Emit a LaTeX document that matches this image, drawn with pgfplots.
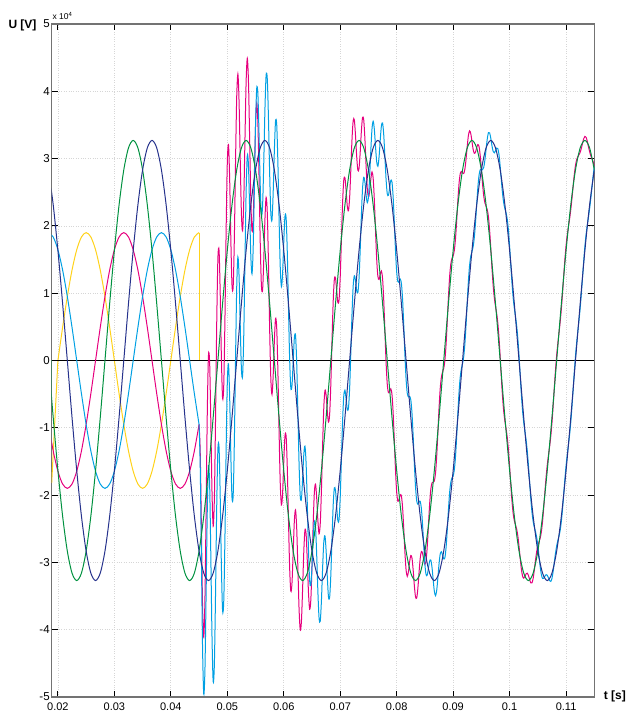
\documentclass[border=0pt]{standalone}
\usepackage{fontspec}
\setmainfont{Liberation Sans}
\usepackage{pgfplots}
\usepackage{pgfplotstable}
\pgfplotsset{compat=1.18}
\definecolor{cYel}{HTML}{FFD21A}
\definecolor{cMag}{HTML}{E6007E}
\definecolor{cCya}{HTML}{00A0E3}
\definecolor{cGre}{HTML}{00913F}
\definecolor{cNav}{HTML}{26328C}

\pgfplotstableread{
t m c
0.045000 -0.950 -0.950
0.045208 -1.376 -1.590
0.045417 -2.521 -2.948
0.045625 -3.670 -4.307
0.045833 -4.111 -4.958
0.046042 -3.538 -4.589
0.046250 -2.202 -3.453
0.046458 -0.763 -2.209
0.046667 0.075 -1.560
0.046875 -0.038 -1.855
0.047083 -0.916 -2.907
0.047292 -1.952 -4.108
0.047500 -2.460 -4.773
0.047708 -2.059 -4.517
0.047917 -0.874 -3.468
0.048125 0.539 -2.180
0.048333 1.513 -1.319
0.048542 1.636 -1.297
0.048750 0.974 -2.047
0.048958 0.026 -3.071
0.049167 -0.563 -3.721
0.049375 -0.360 -3.567
0.049583 0.616 -2.626
0.049792 1.923 -1.340
0.050000 2.937 -0.333
0.050208 3.208 -0.055
0.050417 2.701 -0.541
0.050625 1.807 -1.400
0.050833 1.119 -2.039
0.051042 1.098 -1.999
0.051250 1.820 -1.201
0.051458 2.947 0.014
0.051667 3.916 1.084
0.051875 4.256 1.537
0.052083 3.848 1.254
0.052292 2.980 0.522
0.052500 2.184 -0.129
0.052708 1.928 -0.228
0.052917 2.373 0.382
0.053125 3.275 1.458
0.053333 4.138 2.503
0.053542 4.490 3.044
0.053750 4.144 2.893
0.053958 3.292 2.241
0.054167 2.397 1.550
0.054375 1.925 1.288
0.054583 2.097 1.670
0.054792 2.761 2.547
0.055000 3.491 3.491
0.055208 3.828 4.042
0.055417 3.532 3.959
0.055625 2.711 3.348
0.055833 1.753 2.600
0.056042 1.111 2.162
0.056250 1.048 2.299
0.056458 1.494 2.940
0.056667 2.098 3.733
0.056875 2.423 4.240
0.057083 2.192 4.183
0.057292 1.437 3.593
0.057500 0.475 2.788
0.057708 -0.269 2.189
0.057917 -0.504 2.090
0.058125 -0.227 2.492
0.058333 0.283 3.115
0.058542 0.621 3.554
0.058750 0.488 3.509
0.058958 -0.150 2.947
0.059167 -1.046 2.112
0.059375 -1.814 1.393
0.059583 -2.145 1.097
0.059792 -1.974 1.289
0.060000 -1.513 1.757
0.060208 -1.126 2.137
0.060417 -1.124 2.118
0.060625 -1.596 1.611
0.060833 -2.362 0.796
0.061042 -3.078 0.019
0.061250 -3.429 -0.408
0.061458 -3.304 -0.371
0.061667 -2.850 -0.018
0.061875 -2.385 0.334
0.062083 -2.221 0.373
0.062292 -2.492 -0.034
0.062500 -3.080 -0.767
0.062708 -3.686 -1.530
0.062917 -4.003 -2.012
0.063125 -3.880 -2.063
0.063333 -3.405 -1.770
0.063542 -2.852 -1.406
0.063750 -2.523 -1.272
0.063958 -2.583 -1.532
0.064167 -2.973 -2.126
0.064375 -3.442 -2.805
0.064583 -3.696 -3.269
0.064792 -3.558 -3.344
0.065000 -3.063 -3.063
0.065208 -2.436 -2.650
0.065417 -1.964 -2.391
0.065625 -1.837 -2.474
0.065833 -2.042 -2.889
0.066042 -2.379 -3.430
0.066250 -2.574 -3.825
0.066458 -2.431 -3.877
0.066667 -1.940 -3.575
0.066875 -1.280 -3.097
0.067083 -0.715 -2.706
0.067292 -0.449 -2.605
0.067500 -0.512 -2.825
0.067708 -0.750 -3.208
0.067917 -0.915 -3.509
0.068125 -0.800 -3.519
0.068333 -0.359 -3.191
0.068542 0.276 -2.657
0.068750 0.867 -2.154
0.068958 1.205 -1.892
0.069167 1.224 -1.934
0.069375 1.036 -2.171
0.069583 0.859 -2.383
0.069792 0.901 -2.362
0.070000 1.242 -2.028
0.070208 1.789 -1.474
0.070417 2.337 -0.905
0.070625 2.676 -0.531
0.070833 2.716 -0.442
0.071042 2.526 -0.571
0.071250 2.294 -0.727
0.071458 2.225 -0.708
0.071667 2.421 -0.411
0.071875 2.830 0.111
0.072083 3.277 0.683
0.072292 3.562 1.104
0.072500 3.573 1.260
0.072708 3.342 1.186
0.072917 3.029 1.038
0.073125 2.827 1.010
0.073333 2.856 1.221
0.073542 3.099 1.653
0.073750 3.414 2.163
0.073958 3.613 2.562
0.074167 3.570 2.723
0.074375 3.285 2.648
0.074583 2.888 2.461
0.074792 2.559 2.345
0.075000 2.428 2.428
0.075208 2.509 2.723
0.075417 2.690 3.117
0.075625 2.802 3.439
0.075833 2.707 3.554
0.076042 2.384 3.435
0.076250 1.930 3.181
0.076458 1.506 2.952
0.076667 1.251 2.886
0.076875 1.203 3.020
0.077083 1.280 3.271
0.077292 1.330 3.486
0.077500 1.216 3.529
0.077708 0.893 3.351
0.077917 0.428 3.022
0.078125 -0.034 2.685
0.078333 -0.355 2.477
0.078542 -0.478 2.455
0.078750 -0.456 2.565
0.078958 -0.421 2.676
0.079167 -0.508 2.650
0.079375 -0.781 2.426
0.079583 -1.197 2.045
0.079792 -1.634 1.629
0.080000 -1.955 1.315
0.080208 -2.091 1.172
0.080417 -2.068 1.174
0.080625 -1.997 1.210
0.080833 -2.011 1.147
0.081042 -2.184 0.913
0.081250 -2.497 0.524
0.081458 -2.850 0.083
0.081667 -3.114 -0.282
0.081875 -3.207 -0.488
0.082083 -3.136 -0.542
0.082292 -2.992 -0.534
0.082500 -2.898 -0.585
0.082708 -2.936 -0.780
0.082917 -3.111 -1.120
0.083125 -3.342 -1.525
0.083333 -3.510 -1.875
0.083542 -3.529 -2.083
0.083750 -3.386 -2.135
0.083958 -3.152 -2.101
0.084167 -2.940 -2.093
0.084375 -2.837 -2.200
0.084583 -2.866 -2.439
0.084792 -2.965 -2.751
0.085000 -3.030 -3.030
0.085208 -2.970 -3.184
0.085417 -2.758 -3.185
0.085625 -2.448 -3.085
0.085833 -2.135 -2.982
0.086042 -1.914 -2.965
0.086250 -1.819 -3.070
0.086458 -1.809 -3.255
0.086667 -1.792 -3.427
0.086875 -1.677 -3.494
0.087083 -1.428 -3.419
0.087292 -1.077 -3.233
0.087500 -0.710 -3.023
0.087708 -0.418 -2.876
0.087917 -0.247 -2.841
0.088125 -0.172 -2.891
0.088333 -0.117 -2.949
0.088542 0.006 -2.927
0.088750 0.245 -2.776
0.088958 0.582 -2.515
0.089167 0.944 -2.214
0.089375 1.246 -1.961
0.089583 1.433 -1.809
0.089792 1.515 -1.748
0.090000 1.555 -1.715
0.090208 1.636 -1.627
0.090417 1.810 -1.432
0.090625 2.075 -1.132
0.090833 2.374 -0.784
0.091042 2.627 -0.470
0.091250 2.772 -0.249
0.091458 2.809 -0.124
0.091667 2.786 -0.046
0.091875 2.779 0.060
0.092083 2.846 0.252
0.092292 2.997 0.539
0.092500 3.189 0.876
0.092708 3.347 1.191
0.092917 3.412 1.421
0.093125 3.369 1.552
0.093333 3.254 1.619
0.093542 3.137 1.691
0.093750 3.078 1.827
0.093958 3.096 2.045
0.094167 3.161 2.314
0.094375 3.208 2.571
0.094583 3.179 2.752
0.094792 3.048 2.834
0.095000 2.842 2.842
0.095208 2.620 2.834
0.095417 2.443 2.870
0.095625 2.341 2.978
0.095833 2.291 3.138
0.096042 2.241 3.292
0.096250 2.134 3.385
0.096458 1.937 3.383
0.096667 1.667 3.302
0.096875 1.373 3.190
0.097083 1.117 3.108
0.097292 0.930 3.086
0.097500 0.805 3.118
0.097708 0.698 3.156
0.097917 0.553 3.147
0.098125 0.335 3.054
0.098333 0.049 2.881
0.098542 -0.262 2.671
0.098750 -0.544 2.477
0.098958 -0.757 2.340
0.099167 -0.902 2.256
0.099375 -1.014 2.193
0.099583 -1.143 2.099
0.099792 -1.329 1.934
0.100000 -1.573 1.697
0.100208 -1.843 1.420
0.100417 -2.089 1.153
0.100625 -2.271 0.936
0.100833 -2.379 0.779
0.101042 -2.443 0.654
0.101250 -2.505 0.516
0.101458 -2.608 0.325
0.101667 -2.761 0.071
0.101875 -2.940 -0.221
0.102083 -3.101 -0.507
0.102292 -3.203 -0.745
0.102500 -3.234 -0.921
0.102708 -3.209 -1.053
0.102917 -3.171 -1.180
0.103125 -3.160 -1.343
0.103333 -3.193 -1.558
0.103542 -3.253 -1.807
0.103750 -3.304 -2.053
0.103958 -3.305 -2.254
0.104167 -3.238 -2.391
0.104375 -3.113 -2.476
0.104583 -2.968 -2.541
0.104792 -2.841 -2.627
0.105000 -2.752 -2.752
0.105208 -2.696 -2.910
0.105417 -2.639 -3.066
0.105625 -2.546 -3.183
0.105833 -2.392 -3.239
0.106042 -2.185 -3.236
0.106250 -1.954 -3.205
0.106458 -1.736 -3.182
0.106667 -1.555 -3.190
0.106875 -1.412 -3.229
0.107083 -1.280 -3.271
0.107292 -1.126 -3.282
0.107500 -0.925 -3.238
0.107708 -0.677 -3.135
0.107917 -0.405 -2.999
0.108125 -0.145 -2.864
0.108333 0.077 -2.755
0.108542 0.257 -2.676
0.108750 0.412 -2.609
0.108958 0.575 -2.522
0.109167 0.771 -2.387
0.109375 1.005 -2.202
0.109583 1.259 -1.983
0.109792 1.503 -1.760
0.110000 1.708 -1.562
0.110208 1.865 -1.398
0.110417 1.989 -1.253
0.110625 2.105 -1.102
0.110833 2.242 -0.916
0.111042 2.409 -0.688
0.111250 2.591 -0.430
0.111458 2.764 -0.169
0.111667 2.899 0.067
0.111875 2.985 0.266
0.112083 3.029 0.435
0.112292 3.057 0.599
0.112500 3.095 0.782
0.112708 3.154 0.998
0.112917 3.229 1.238
0.113125 3.296 1.479
0.113333 3.330 1.695
0.113542 3.316 1.870
0.113750 3.259 2.008
0.113958 3.179 2.128
0.114167 3.103 2.256
0.114375 3.043 2.406
0.114583 3.000 2.573
0.114792 2.955 2.741
0.115000 2.884 2.884
}\post

\pgfplotstableread{
t y m c
0.018333 -0.950 -0.950 1.900
0.019167 -0.492 -1.344 1.835
0.020000 0.000 -1.645 1.645
0.020833 0.492 -1.835 1.344
0.021667 0.950 -1.900 0.950
0.022500 1.344 -1.835 0.492
0.023333 1.645 -1.645 0.000
0.024167 1.835 -1.344 -0.492
0.025000 1.900 -0.950 -0.950
0.025833 1.835 -0.492 -1.344
0.026667 1.645 0.000 -1.645
0.027500 1.344 0.492 -1.835
0.028333 0.950 0.950 -1.900
0.029167 0.492 1.344 -1.835
0.030000 0.000 1.645 -1.645
0.030833 -0.492 1.835 -1.344
0.031667 -0.950 1.900 -0.950
0.032500 -1.344 1.835 -0.492
0.033333 -1.645 1.645 0.000
0.034167 -1.835 1.344 0.492
0.035000 -1.900 0.950 0.950
0.035833 -1.835 0.492 1.344
0.036667 -1.645 0.000 1.645
0.037500 -1.344 -0.492 1.835
0.038333 -0.950 -0.950 1.900
0.039167 -0.492 -1.344 1.835
0.040000 0.000 -1.645 1.645
0.040833 0.492 -1.835 1.344
0.041667 0.950 -1.900 0.950
0.042500 1.344 -1.835 0.492
0.043333 1.645 -1.645 0.000
0.044167 1.835 -1.344 -0.492
0.045000 1.900 -0.950 -0.950
}\pre

\pgfplotstableread{
t g n
0.018333 0.000 2.832
0.019167 -0.846 2.312
0.020000 -1.635 1.635
0.020833 -2.312 0.846
0.021667 -2.832 0.000
0.022500 -3.159 -0.846
0.023333 -3.270 -1.635
0.024167 -3.159 -2.312
0.025000 -2.832 -2.832
0.025833 -2.312 -3.159
0.026667 -1.635 -3.270
0.027500 -0.846 -3.159
0.028333 0.000 -2.832
0.029167 0.846 -2.312
0.030000 1.635 -1.635
0.030833 2.312 -0.846
0.031667 2.832 0.000
0.032500 3.159 0.846
0.033333 3.270 1.635
0.034167 3.159 2.312
0.035000 2.832 2.832
0.035833 2.312 3.159
0.036667 1.635 3.270
0.037500 0.846 3.159
0.038333 0.000 2.832
0.039167 -0.846 2.312
0.040000 -1.635 1.635
0.040833 -2.312 0.846
0.041667 -2.832 0.000
0.042500 -3.159 -0.846
0.043333 -3.270 -1.635
0.044167 -3.159 -2.312
0.045000 -2.832 -2.832
0.045833 -2.312 -3.159
0.046667 -1.635 -3.270
0.047500 -0.846 -3.159
0.048333 0.000 -2.832
0.049167 0.846 -2.312
0.050000 1.635 -1.635
0.050833 2.312 -0.846
0.051667 2.832 0.000
0.052500 3.159 0.846
0.053333 3.270 1.635
0.054167 3.159 2.312
0.055000 2.832 2.832
0.055833 2.312 3.159
0.056667 1.635 3.270
0.057500 0.846 3.159
0.058333 0.000 2.832
0.059167 -0.846 2.312
0.060000 -1.635 1.635
0.060833 -2.312 0.846
0.061667 -2.832 0.000
0.062500 -3.159 -0.846
0.063333 -3.270 -1.635
0.064167 -3.159 -2.312
0.065000 -2.832 -2.832
0.065833 -2.312 -3.159
0.066667 -1.635 -3.270
0.067500 -0.846 -3.159
0.068333 0.000 -2.832
0.069167 0.846 -2.312
0.070000 1.635 -1.635
0.070833 2.312 -0.846
0.071667 2.832 0.000
0.072500 3.159 0.846
0.073333 3.270 1.635
0.074167 3.159 2.312
0.075000 2.832 2.832
0.075833 2.312 3.159
0.076667 1.635 3.270
0.077500 0.846 3.159
0.078333 0.000 2.832
0.079167 -0.846 2.312
0.080000 -1.635 1.635
0.080833 -2.312 0.846
0.081667 -2.832 0.000
0.082500 -3.159 -0.846
0.083333 -3.270 -1.635
0.084167 -3.159 -2.312
0.085000 -2.832 -2.832
0.085833 -2.312 -3.159
0.086667 -1.635 -3.270
0.087500 -0.846 -3.159
0.088333 0.000 -2.832
0.089167 0.846 -2.312
0.090000 1.635 -1.635
0.090833 2.312 -0.846
0.091667 2.832 0.000
0.092500 3.159 0.846
0.093333 3.270 1.635
0.094167 3.159 2.312
0.095000 2.832 2.832
0.095833 2.312 3.159
0.096667 1.635 3.270
0.097500 0.846 3.159
0.098333 0.000 2.832
0.099167 -0.846 2.312
0.100000 -1.635 1.635
0.100833 -2.312 0.846
0.101667 -2.832 0.000
0.102500 -3.159 -0.846
0.103333 -3.270 -1.635
0.104167 -3.159 -2.312
0.105000 -2.832 -2.832
0.105833 -2.312 -3.159
0.106667 -1.635 -3.270
0.107500 -0.846 -3.159
0.108333 0.000 -2.832
0.109167 0.846 -2.312
0.110000 1.635 -1.635
0.110833 2.312 -0.846
0.111667 2.832 0.000
0.112500 3.159 0.846
0.113333 3.270 1.635
0.114167 3.159 2.312
0.115000 2.832 2.832
}\sine

\begin{document}
\begin{tikzpicture}
\useasboundingbox (-51.7pt,-14pt) rectangle (579.3pt,697pt);
\begin{axis}[
  at={(0pt,0pt)}, anchor=south west,
  scale only axis, width=542.6pt, height=673pt,
  xmin=0.0189, xmax=0.115, ymin=-5, ymax=5,
  xtick={0.02,0.03,0.04,0.05,0.06,0.07,0.08,0.09,0.1,0.11},
  xticklabels={0.02,0.03,0.04,0.05,0.06,0.07,0.08,0.09,0.1,0.11},
  ytick={-5,-4,-3,-2,-1,0,1,2,3,4,5},
  yticklabels={-5,-4,-3,-2,-1,0,1,2,3,4,5},
  scaled ticks=false,
  tick align=inside,
  major tick length=6.5pt,
  xmajorgrids, ymajorgrids,
  grid style={dotted, black!16, line width=0.7pt},
  axis line style={black!55, line width=1.5pt},
  tick style={black, line width=1pt},
  yticklabel style={font=\fontsize{11.5}{13}\selectfont, text=black, xshift=1.5pt},
  xticklabel style={font=\fontsize{11}{12}\selectfont, text=black, inner sep=0pt, yshift=-5.3pt},
  every axis plot/.append style={line width=1pt},
]
\addplot[cYel, smooth] table[x=t, y=y, skip coords between index={0}{2}] {\pre};
\addplot[cYel] coordinates {(0.0189,-1.82) (0.020,0)};
\addplot[cYel] coordinates {(0.045,1.9) (0.045,0) (0.115,0)};
\addplot[black, line width=1.2pt] coordinates {(0.0189,0) (0.115,0)};
\addplot[cMag, smooth] table[x=t, y=m] {\pre};
\addplot[cMag, smooth] table[x=t, y=m] {\post};
\addplot[cCya, smooth] table[x=t, y=c] {\pre};
\addplot[cCya, smooth] table[x=t, y=c] {\post};
\addplot[cGre, smooth] table[x=t, y=g] {\sine};
\addplot[cGre] coordinates {(0.0189,0) (0.0189,-0.58)};
\addplot[cNav, smooth] table[x=t, y=n] {\sine};
\end{axis}
\node[font=\bfseries\fontsize{12}{14}\selectfont] at (-29.2pt,672pt) {U [V]};
\node[anchor=base west, inner sep=0pt, font=\fontsize{8.5}{10}\selectfont] at (0.6pt,677pt) {x 10\raisebox{3.5pt}{\fontsize{6}{7}\selectfont 4}};
\node[anchor=west, inner sep=0pt, font=\bfseries\fontsize{12}{14}\selectfont] at (552pt,1pt) {t [s]};
\end{tikzpicture}
\end{document}
